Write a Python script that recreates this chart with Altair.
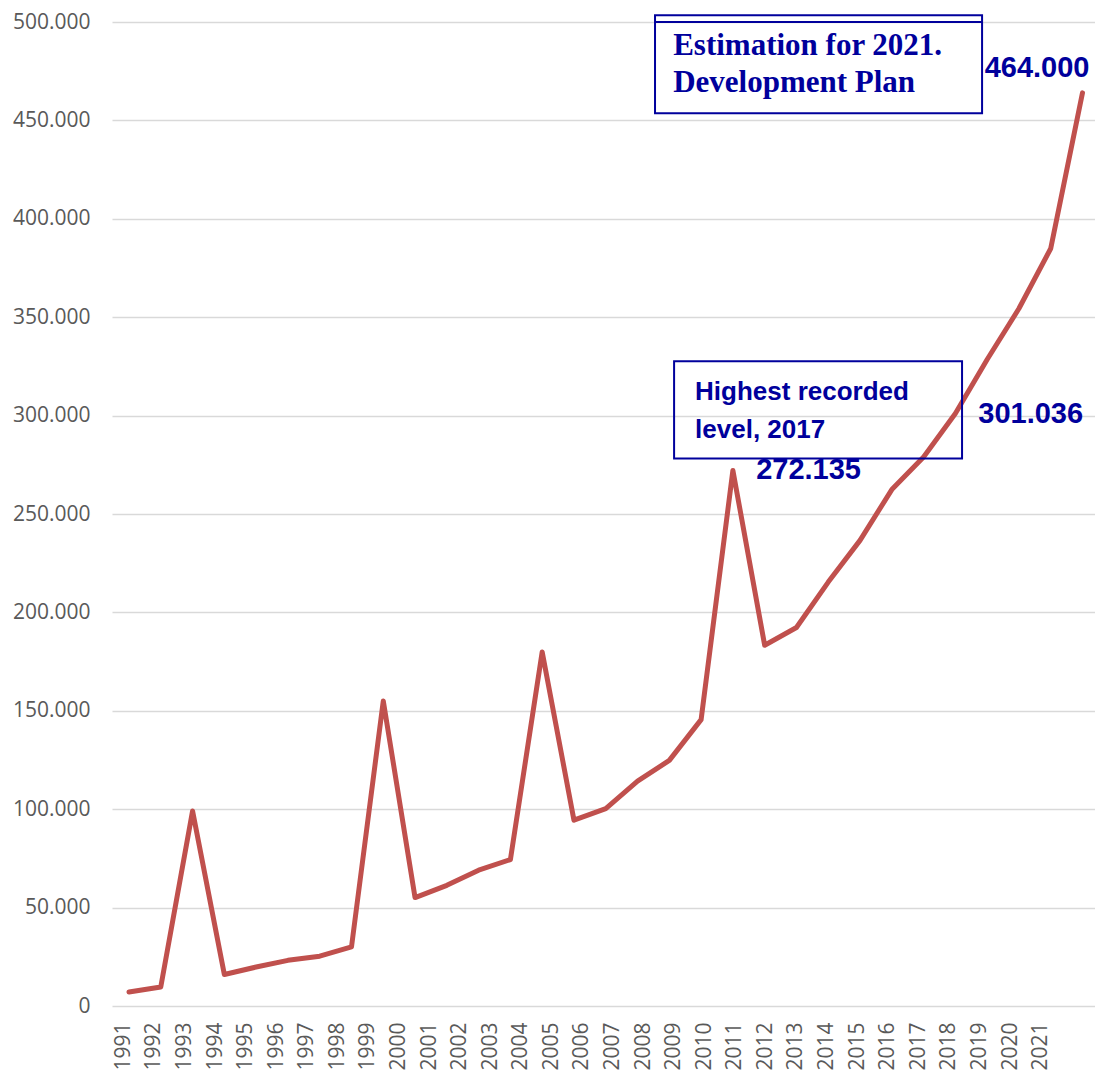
import altair as alt
import pandas as pd

# ---- data ----
years = list(range(1991, 2022))
values = [7100, 9700, 99100, 16000, 19800, 23200, 25300, 30000, 155000, 55100,
          61300, 69000, 74400, 179900, 94400, 100300, 114300, 124800, 145500, 272135,
          183300, 192300, 215400, 236600, 262400, 279000, 301036, 328500, 354400, 384900,
          464000]
y_ticks = list(range(0, 500001, 50000))

# annotation texts
num_labels = ["464.000", "301.036", "272.135"]
num_x = [2019.57, 2019.37, 2012.38]
num_y = [471900, 296200, 268000]

high_lines = ["Highest recorded", "level, 2017"]
high_x = [2008.81, 2008.81]
high_y = [308100, 288800]

est_lines = ["Estimation for 2021.", "Development Plan"]
est_x = [2008.12, 2008.12]
est_y = [483100, 464300]

box_x = [2007.55, 2008.15]
box_x2 = [2017.84, 2017.21]
box_y = [503400, 327600]
box_y2 = [453600, 278200]

BLUE = "#00009C"
RED = "#C0504D"

df = pd.DataFrame({"year": years, "value": values})
num_df = pd.DataFrame({"x": num_x, "y": num_y, "t": num_labels})
high_df = pd.DataFrame({"x": high_x, "y": high_y, "t": high_lines})
est_df = pd.DataFrame({"x": est_x, "y": est_y, "t": est_lines})
box_df = pd.DataFrame({"x": box_x, "x2": box_x2, "y": box_y, "y2": box_y2})
inner_df = pd.DataFrame({"x": [box_x[0]], "x2": [box_x2[0]], "y": [500000]})

xs = alt.Scale(domain=[1990.465, 2021.393], nice=False, zero=False)
ys = alt.Scale(domain=[0, 500000], nice=False)

y_enc = alt.Y("value:Q", scale=ys, title=None,
              axis=alt.Axis(values=y_ticks, format=",.0f",
                            labelExpr="replace(datum.label, ',', '.')",
                            grid=True, gridColor="#D9D9D9", gridWidth=1.5,
                            domain=False, ticks=False, labelPadding=22,
                            labelFont="Open Sans", labelFontSize=21,
                            labelColor="#595959"))

line = alt.Chart(df).mark_line(color=RED, strokeWidth=5, strokeJoin="round",
                               strokeCap="round").encode(
    x=alt.X("year:Q", scale=xs, axis=None),
    y=y_enc,
)

axis_layer = alt.Chart(df).mark_point(opacity=0).encode(
    x=alt.X("year:Q",
            scale=alt.Scale(domain=[1990.63, 2022.78], nice=False, zero=False),
            title=None,
            axis=alt.Axis(values=years, format="d", labelAngle=270,
                          labelFont="Open Sans", labelFontSize=21,
                          labelColor="#595959", domain=False, ticks=False,
                          grid=False, labelPadding=16)),
    y=alt.Y("value:Q", scale=ys),
)

boxes = alt.Chart(box_df).mark_rect(fillOpacity=0, stroke=BLUE, strokeWidth=2).encode(
    x=alt.X("x:Q", scale=xs, axis=None), x2="x2:Q",
    y=alt.Y("y:Q", scale=ys), y2="y2:Q",
)

inner = alt.Chart(inner_df).mark_rule(color=BLUE, strokeWidth=2).encode(
    x=alt.X("x:Q", scale=xs, axis=None), x2="x2:Q",
    y=alt.Y("y:Q", scale=ys),
)

nums = alt.Chart(num_df).mark_text(font="Liberation Sans", fontWeight="bold",
                                   fontSize=29, color=BLUE, align="center",
                                   baseline="alphabetic").encode(
    x=alt.X("x:Q", scale=xs, axis=None), y=alt.Y("y:Q", scale=ys), text="t:N")

high = alt.Chart(high_df).mark_text(font="Liberation Sans", fontWeight="bold",
                                    fontSize=26, color=BLUE, align="left",
                                    baseline="alphabetic").encode(
    x=alt.X("x:Q", scale=xs, axis=None), y=alt.Y("y:Q", scale=ys), text="t:N")

est = alt.Chart(est_df).mark_text(font="Liberation Serif", fontWeight="bold",
                                  fontSize=31, color=BLUE, align="left",
                                  baseline="alphabetic").encode(
    x=alt.X("x:Q", scale=xs, axis=None), y=alt.Y("y:Q", scale=ys), text="t:N")

chart = alt.layer(line, axis_layer, boxes, inner, nums, high, est).resolve_scale(
    x="independent"
).properties(
    width=983, height=984,
    autosize=alt.AutoSizeParams(type="none"),
    padding={"left": 112, "top": 22, "right": 0, "bottom": 65},
    background="white",
).configure_view(stroke=None)

chart.save("out.html", embed_options={"renderer": "svg", "actions": False})
